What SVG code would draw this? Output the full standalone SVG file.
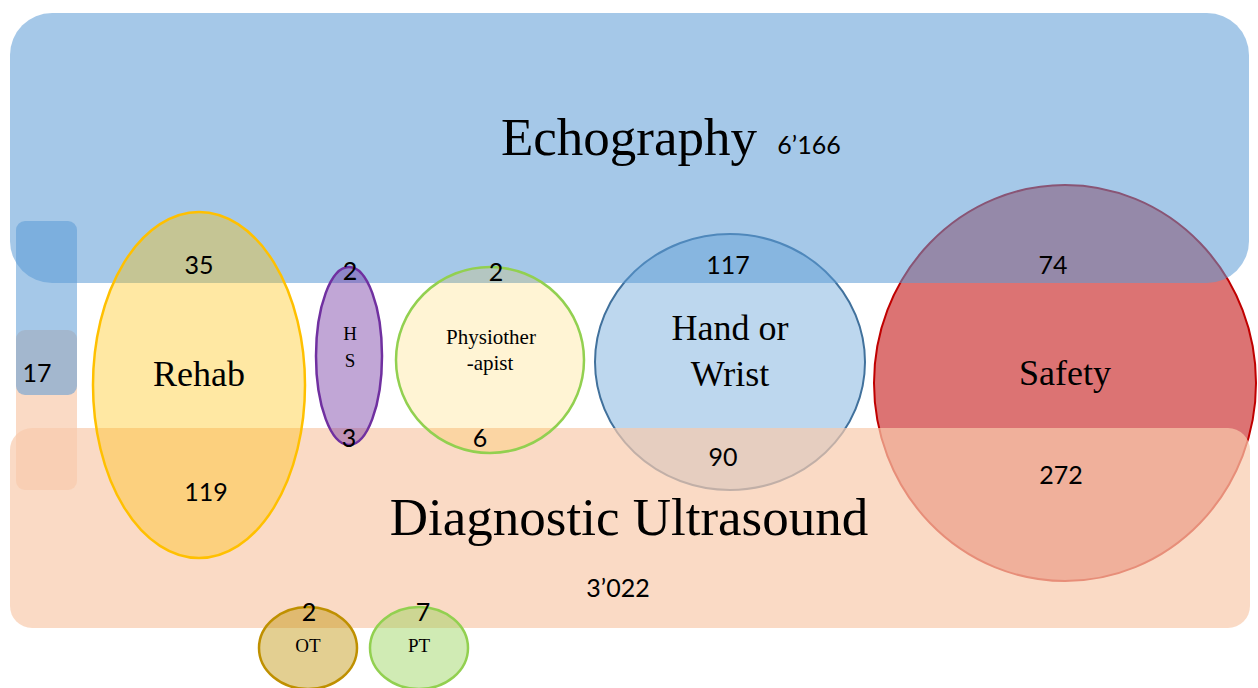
<svg xmlns="http://www.w3.org/2000/svg" width="1258" height="688" viewBox="0 0 1258 688">
<style>
.num{font-family:Lato,"Liberation Sans",sans-serif;font-size:25px;fill:#000;text-anchor:middle}
.lbl{font-family:"Liberation Serif","Times New Roman",serif;fill:#000;text-anchor:middle}
.big{font-size:53px}
.mid{font-size:36px}
.sm{font-size:19px}
.ph{font-size:21px}
.blue{fill:#5B9BD5;fill-opacity:.55}
.peach{fill:#F8CBAD;fill-opacity:.7}
</style>
<rect width="1258" height="688" fill="#fff"/>
<g id="safety">
<ellipse cx="1065" cy="383" rx="191" ry="198" fill="#C00000" fill-opacity=".55" stroke="#C00000" stroke-width="2"/>
</g>
<g id="hand-or-wrist">
<ellipse cx="730" cy="362" rx="135" ry="128" fill="#5B9BD5" fill-opacity=".4" stroke="#41719C" stroke-width="2"/>
</g>
<g id="diagnostic-ultrasound">
<rect x="10" y="428" width="1240" height="200" rx="22" class="peach"/>
</g>
<g id="echography">
<rect x="10" y="13" width="1239" height="270" rx="42" class="blue"/>
</g>
<g id="left-peach">
<rect x="16" y="330" width="61" height="160" rx="9" class="peach"/>
</g>
<g id="left-blue">
<rect x="16" y="221" width="61" height="174" rx="9" class="blue"/>
</g>
<g id="rehab">
<ellipse cx="199" cy="385" rx="106" ry="173" fill="#FFC000" fill-opacity=".36" stroke="#FFC000" stroke-width="2.5"/>
</g>
<g id="hs">
<ellipse cx="349" cy="356" rx="33" ry="89" fill="#7030A0" fill-opacity=".43" stroke="#7030A0" stroke-width="2.5"/>
</g>
<g id="physiotherapist">
<ellipse cx="490" cy="360" rx="94" ry="93" fill="#FFC000" fill-opacity=".17" stroke="#92D050" stroke-width="2.5"/>
</g>
<g id="ot">
<ellipse cx="308" cy="648" rx="49" ry="41" fill="#BF9000" fill-opacity=".43" stroke="#BF9000" stroke-width="2.5"/>
</g>
<g id="pt">
<ellipse cx="419" cy="648" rx="49" ry="41" fill="#92D050" fill-opacity=".43" stroke="#92D050" stroke-width="2.5"/>
</g>
<g id="labels">
<text x="629" y="155" class="lbl big">Echography</text>
<text x="809" y="154" class="num">6’166</text>
<text x="629" y="535" class="lbl big">Diagnostic Ultrasound</text>
<text x="618" y="597" class="num">3’022</text>
<text x="37" y="382" class="num">17</text>
<text x="199" y="386" class="lbl mid">Rehab</text>
<text x="199" y="274" class="num">35</text>
<text x="206" y="501" class="num">119</text>
<text x="350" y="340" class="lbl sm">H</text>
<text x="350" y="367" class="lbl sm">S</text>
<text x="350" y="280" class="num">2</text>
<text x="349" y="447" class="num">3</text>
<text x="491" y="344" class="lbl ph">Physiother</text>
<text x="490" y="370" class="lbl ph">-apist</text>
<text x="496" y="281" class="num">2</text>
<text x="480" y="447" class="num">6</text>
<text x="730" y="340" class="lbl mid">Hand or</text>
<text x="730" y="386" class="lbl mid">Wrist</text>
<text x="728" y="274" class="num">117</text>
<text x="723" y="466" class="num">90</text>
<text x="1065" y="385" class="lbl mid">Safety</text>
<text x="1053" y="274" class="num">74</text>
<text x="1061" y="484" class="num">272</text>
<text x="308" y="652" class="lbl sm">OT</text>
<text x="309" y="621" class="num">2</text>
<text x="419" y="652" class="lbl sm">PT</text>
<text x="423" y="621" class="num">7</text>
</g>
</svg>
